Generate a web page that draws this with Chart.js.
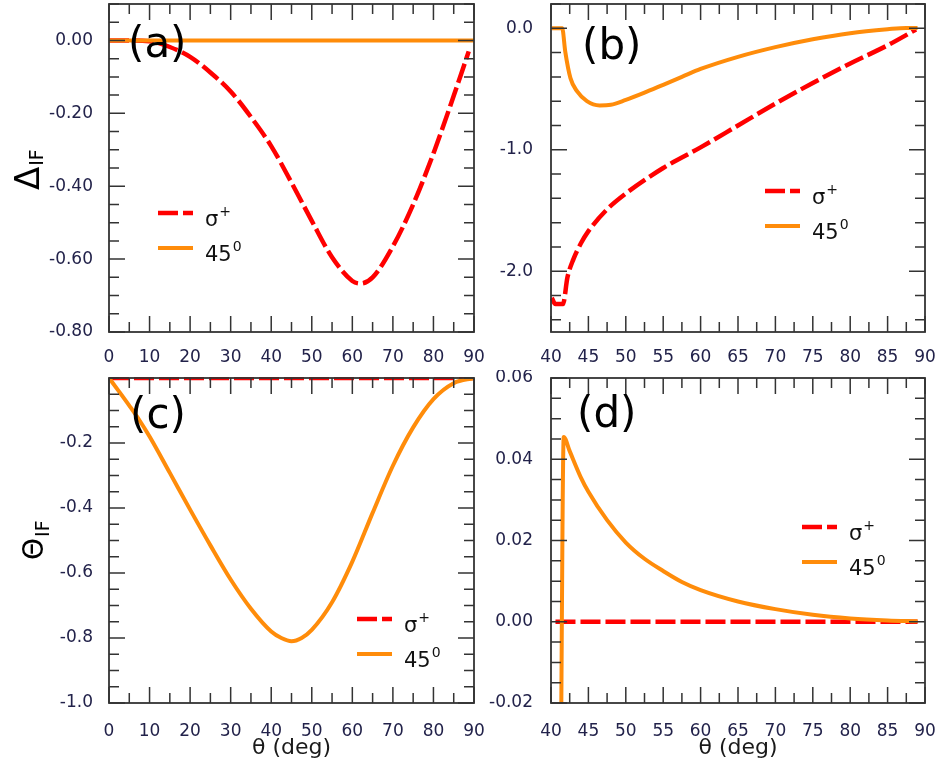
<!DOCTYPE html>
<html>
<head>
<meta charset="utf-8">
<script src="https://cdn.jsdelivr.net/npm/chart.js@4.4.0/dist/chart.umd.min.js"></script>
<style>
  html, body { margin: 0; padding: 0; background: #fff; }
  #wrap { position: relative; width: 936px; height: 772px; overflow: hidden; }
  #wrap canvas { position: absolute; }
</style>
</head>
<body>
<div id="wrap">
  <canvas id="pa" width="488" height="370" style="left:0;top:0;width:488px;height:370px"></canvas>
  <canvas id="pb" width="448" height="370" style="left:488px;top:0;width:448px;height:370px"></canvas>
  <canvas id="pc" width="488" height="402" style="left:0;top:370px;width:488px;height:402px"></canvas>
  <canvas id="pd" width="448" height="402" style="left:488px;top:370px;width:448px;height:402px"></canvas>
</div>
<script>
// panel (a) : Delta_IF, theta 0..90
const thetaSigmaA = [0, 5, 10, 15, 20, 25, 30, 35, 40, 45, 50, 55, 60, 62, 65, 70, 75, 80, 85, 87.5, 88.7];
const sigmaA      = [0, 0, -0.002, -0.018, -0.045, -0.088, -0.14, -0.21, -0.29, -0.39, -0.495, -0.595, -0.66, -0.667, -0.65, -0.565, -0.45, -0.31, -0.152, -0.07, -0.03];
const theta45A    = [0, 90];
const deg45A      = [0, 0];

// panel (b) : Delta_IF, theta 40..90
const thetaSigmaB = [40.1, 40.6, 41.6, 42.2, 43, 44, 45, 47.5, 50, 55, 60, 65, 70, 75, 80, 85, 88.8];
const sigmaB      = [-2.22, -2.27, -2.27, -2.05, -1.9, -1.77, -1.67, -1.49, -1.36, -1.15, -0.98, -0.8, -0.62, -0.45, -0.29, -0.14, -0.01];
const theta45B    = [40.1, 41.5, 41.9, 42.6, 43.5, 44.8, 46.5, 48, 50, 52.5, 55, 57.5, 60, 65, 70, 75, 80, 85, 87.5, 89];
const deg45B      = [0, 0, -0.19, -0.41, -0.52, -0.6, -0.635, -0.63, -0.59, -0.53, -0.465, -0.4, -0.335, -0.235, -0.155, -0.09, -0.04, -0.008, 0.003, 0.003];

// panel (c) : Theta_IF, theta 0..90
const thetaSigmaC = [0, 90];
const sigmaC      = [0, 0];
const theta45C    = [0, 2.5, 5, 7.5, 10, 15, 20, 25, 30, 35, 40, 42.5, 45, 47.5, 50, 55, 60, 65, 70, 75, 80, 85, 90];
const deg45C      = [0, -0.042, -0.085, -0.13, -0.18, -0.292, -0.405, -0.515, -0.62, -0.71, -0.78, -0.8, -0.81, -0.8, -0.775, -0.69, -0.565, -0.415, -0.27, -0.152, -0.065, -0.016, 0];

// panel (d) : Theta_IF, theta 40..90
const thetaSigmaD = [40.6, 89];
const sigmaD      = [0, 0];
const theta45D    = [41.3, 41.7, 42.5, 44, 45, 47.5, 50, 52.5, 55, 57.5, 60, 65, 70, 75, 80, 85, 89];
const deg45D      = [-0.04, 0.0455, 0.042, 0.0355, 0.032, 0.025, 0.0195, 0.0155, 0.0125, 0.0098, 0.0078, 0.005, 0.0031, 0.0017, 0.0008, 0.0003, 0.0001];

// tick labels
const xTicksWide   = [0, 10, 20, 30, 40, 50, 60, 70, 80, 90];
const xTicksNarrow = [40, 45, 50, 55, 60, 65, 70, 75, 80, 85, 90];
const yTicksA = [0, -0.2, -0.4, -0.6, -0.8];
const yTicksB = [0, -1, -2];
const yTicksC = [-0.2, -0.4, -0.6, -0.8, -1.0];
const yTicksD = [0.06, 0.04, 0.02, 0, -0.02];

// legend names: base text + superscript
const seriesBase = ['σ', '45'];
const seriesSup  = ['+', '0'];
const seriesNames = ['σ⁺', '45⁰'];

const RED = '#ff0000';
const ORANGE = '#ff8c0a';
const TICK_COLOR = '#22224a';

Chart.defaults.font.family = "'DejaVu Sans', sans-serif";

function toPoints(xs, ys) {
     return xs.map((x, i) => ({ x: x, y: ys[i] }));
}

// box frame with inward major/minor ticks on all four sides
const frameTicks = {
     id: 'frameTicks',
     afterDatasetsDraw(chart, args, opts) {
          const ctx = chart.ctx;
          const a = chart.chartArea;
          ctx.save();
          ctx.strokeStyle = '#333';
          ctx.lineWidth = 1.5;
          ctx.beginPath();
          const mark = (scale, step, majors, horiz) => {
               const k0 = Math.ceil(scale.min / step - 1e-6);
               const k1 = Math.floor(scale.max / step + 1e-6);
               for (let k = k0; k <= k1; k++) {
                    const v = k * step;
                    const major = majors.some(m => Math.abs(m - v) < step / 10);
                    const len = major ? 16 : 10;
                    const p = scale.getPixelForValue(v);
                    if (horiz) {
                         ctx.moveTo(p, a.bottom); ctx.lineTo(p, a.bottom - len);
                         ctx.moveTo(p, a.top); ctx.lineTo(p, a.top + len);
                    } else {
                         ctx.moveTo(a.left, p); ctx.lineTo(a.left + len, p);
                         ctx.moveTo(a.right, p); ctx.lineTo(a.right - len, p);
                    }
               }
          };
          mark(chart.scales.x, opts.xMinor, opts.xMajor, true);
          mark(chart.scales.y, opts.yMinor, opts.yMajor, false);
          ctx.stroke();
          ctx.lineWidth = 1.8;
          ctx.strokeRect(a.left, a.top, a.width, a.height);
          ctx.restore();
     }
};

// panel tag, in-plot legend and y title with subscript
const panelText = {
     id: 'panelText',
     afterDraw(chart, args, opts) {
          const ctx = chart.ctx;
          const a = chart.chartArea;
          ctx.save();
          ctx.fillStyle = '#000';
          ctx.textBaseline = 'alphabetic';
          ctx.textAlign = 'left';
          ctx.font = "42px 'DejaVu Sans'";
          ctx.fillText(opts.tag, a.left + opts.tagAt[0], a.top + opts.tagAt[1]);

          // legend
          chart.data.datasets.forEach((ds, i) => {
               const x0 = a.left + opts.legendAt[0];
               const y0 = a.top + opts.legendAt[1] + i * 35;
               ctx.beginPath();
               ctx.setLineDash(ds.borderDash || []);
               ctx.strokeStyle = ds.borderColor;
               ctx.lineWidth = ds.borderWidth;
               ctx.moveTo(x0, y0);
               ctx.lineTo(x0 + 35, y0);
               ctx.stroke();
               ctx.setLineDash([]);
               ctx.fillStyle = '#111';
               ctx.font = "21px 'DejaVu Sans'";
               const tx = x0 + 35 + 12;
               ctx.fillText(seriesBase[i], tx, y0 + 13);
               const bw = ctx.measureText(seriesBase[i]).width;
               ctx.font = "14px 'DejaVu Sans'";
               ctx.fillText(seriesSup[i], tx + bw + 1, y0 + 3);
          });

          // rotated y title
          const t = opts.yTitle;
          if (t) {
               ctx.translate(t.x, t.y);
               ctx.rotate(-Math.PI / 2);
               ctx.fillStyle = '#000';
               ctx.font = t.size + "px 'DejaVu Sans'";
               ctx.fillText(t.text, 0, 0);
               const w = ctx.measureText(t.text).width;
               ctx.font = t.subSize + "px 'DejaVu Sans'";
               ctx.fillText(t.sub, w + 1, t.subDrop);
          }
          ctx.restore();
     }
};

function makePanel(id, o) {
     const ctx = document.getElementById(id).getContext('2d');
     return new Chart(ctx, {
          type: 'line',
          data: {
               datasets: [{
                    label: seriesNames[0],
                    data: toPoints(o.sigX, o.sigY),
                    borderColor: RED,
                    borderWidth: 4.5,
                    borderDash: [20, 5],
                    clip: 1,
                    order: 2
               }, {
                    label: seriesNames[1],
                    data: toPoints(o.degX, o.degY),
                    borderColor: ORANGE,
                    borderWidth: 4,
                    clip: 1,
                    order: 1
               }]
          },
          options: {
               responsive: false,
               animation: false,
               events: [],
               layout: { padding: o.pad, autoPadding: false },
               elements: {
                    point: { radius: 0 },
                    line: { cubicInterpolationMode: 'monotone', fill: false }
               },
               plugins: {
                    legend: { display: false },
                    tooltip: { enabled: false },
                    frameTicks: { xMinor: o.xMinor, xMajor: o.xTicks, yMinor: o.yMinor, yMajor: o.yTicks },
                    panelText: { tag: o.tag, tagAt: o.tagAt, legendAt: o.legendAt, yTitle: o.yTitle }
               },
               scales: {
                    x: {
                         type: 'linear',
                         min: o.xMin,
                         max: o.xMax,
                         grid: { display: false, drawTicks: false },
                         border: { display: false },
                         afterBuildTicks: s => { s.ticks = o.xTicks.map(v => ({ value: v })); },
                         afterFit: s => {
                              s.height = o.xH;
                              s.paddingLeft = 0;
                              s.paddingRight = 0;
                         },
                         ticks: {
                              color: TICK_COLOR,
                              font: { size: 17 },
                              padding: o.xPad,
                              autoSkip: false,
                              maxRotation: 0,
                              callback: v => String(v)
                         },
                         title: {
                              display: !!o.xTitle,
                              text: o.xTitle || '',
                              color: '#1a1a1a',
                              font: { size: 22 },
                              padding: { top: 0, bottom: 11 }
                         }
                    },
                    y: {
                         type: 'linear',
                         min: o.yMin,
                         max: o.yMax,
                         grid: { display: false, drawTicks: false },
                         border: { display: false },
                         afterBuildTicks: s => { s.ticks = o.yTicks.map(v => ({ value: v })); },
                         afterFit: s => {
                              s.width = o.yW;
                              s.paddingTop = 0;
                              s.paddingBottom = 0;
                         },
                         ticks: {
                              color: TICK_COLOR,
                              font: { size: 17 },
                              padding: o.yPad,
                              autoSkip: false,
                              callback: v => Number(v).toFixed(o.yDec)
                         }
                    }
               }
          },
          plugins: [frameTicks, panelText]
     });
}

makePanel('pa', {
     sigX: thetaSigmaA, sigY: sigmaA, degX: theta45A, degY: deg45A,
     xMin: 0, xMax: 90, xTicks: xTicksWide, xMinor: 5,
     yMin: -0.8, yMax: 0.1, yTicks: yTicksA, yMinor: 0.05, yDec: 2,
     pad: { left: 0, top: 4, right: 14, bottom: 0 }, yW: 109, xH: 38, yPad: 16, xPad: 15,
     tag: '(a)', tagAt: [19, 53], legendAt: [49, 209],
     yTitle: { text: 'Δ', sub: 'IF', x: 39, y: 190, size: 34, subSize: 19, subDrop: 4 }
});

makePanel('pb', {
     sigX: thetaSigmaB, sigY: sigmaB, degX: theta45B, degY: deg45B,
     xMin: 40, xMax: 90, xTicks: xTicksNarrow, xMinor: 2.5,
     yMin: -2.5, yMax: 0.2, yTicks: yTicksB, yMinor: 0.2, yDec: 1,
     pad: { left: 0, top: 4, right: 11, bottom: 0 }, yW: 63, xH: 38, yPad: 18, xPad: 15,
     tag: '(b)', tagAt: [31, 55], legendAt: [214, 187],
     yTitle: null
});

makePanel('pc', {
     sigX: thetaSigmaC, sigY: sigmaC, degX: theta45C, degY: deg45C,
     xMin: 0, xMax: 90, xTicks: xTicksWide, xMinor: 5,
     yMin: -1.0, yMax: 0, yTicks: yTicksC, yMinor: 0.05, yDec: 1,
     pad: { left: 0, top: 8, right: 14, bottom: 0 }, yW: 109, xH: 69, yPad: 16, xPad: 18,
     xTitle: 'θ (deg)',
     tag: '(c)', tagAt: [21, 50], legendAt: [248, 241],
     yTitle: { text: 'Θ', sub: 'IF', x: 43, y: 190, size: 28, subSize: 19, subDrop: 6 }
});

makePanel('pd', {
     sigX: thetaSigmaD, sigY: sigmaD, degX: theta45D, degY: deg45D,
     xMin: 40, xMax: 90, xTicks: xTicksNarrow, xMinor: 2.5,
     yMin: -0.02, yMax: 0.06, yTicks: yTicksD, yMinor: 0.005, yDec: 2,
     pad: { left: 0, top: 8, right: 11, bottom: 0 }, yW: 63, xH: 69, yPad: 18, xPad: 18,
     xTitle: 'θ (deg)',
     tag: '(d)', tagAt: [26, 49], legendAt: [251, 149],
     yTitle: null
});
</script>
</body>
</html>
